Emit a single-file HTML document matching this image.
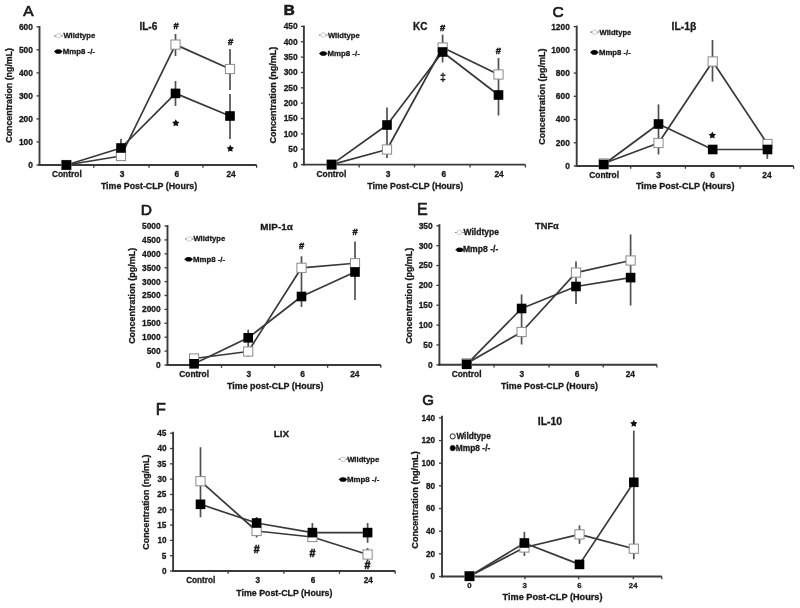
<!DOCTYPE html>
<html><head><meta charset="utf-8"><style>
html,body{margin:0;padding:0;background:#fff;}
body{width:800px;height:608px;overflow:hidden;}
svg{display:block;font-family:"Liberation Sans", sans-serif;filter:blur(0.35px);}
text{fill:#1a1a1a;stroke:#1a1a1a;stroke-width:0.3px;}
</style></head><body>
<svg width="800" height="608" viewBox="0 0 800 608">
<rect width="800" height="608" fill="#fff"/>
<text x="23.21" y="15.75" font-size="15.50" text-anchor="start" font-weight="normal" style="stroke-width:0.7px">A</text>
<line x1="39.50" y1="26.00" x2="39.50" y2="166.00" stroke="#3a3a3a" stroke-width="1.9"/>
<line x1="36.50" y1="165.00" x2="39.50" y2="165.00" stroke="#3a3a3a" stroke-width="1.3"/>
<text x="28.27" y="167.93" font-size="8.40" text-anchor="start" font-weight="bold" >0</text>
<line x1="36.50" y1="141.97" x2="39.50" y2="141.97" stroke="#3a3a3a" stroke-width="1.3"/>
<text x="18.93" y="144.90" font-size="8.40" text-anchor="start" font-weight="bold" >100</text>
<line x1="36.50" y1="118.93" x2="39.50" y2="118.93" stroke="#3a3a3a" stroke-width="1.3"/>
<text x="18.93" y="121.86" font-size="8.40" text-anchor="start" font-weight="bold" >200</text>
<line x1="36.50" y1="95.90" x2="39.50" y2="95.90" stroke="#3a3a3a" stroke-width="1.3"/>
<text x="18.93" y="98.83" font-size="8.40" text-anchor="start" font-weight="bold" >300</text>
<line x1="36.50" y1="72.87" x2="39.50" y2="72.87" stroke="#3a3a3a" stroke-width="1.3"/>
<text x="18.93" y="75.80" font-size="8.40" text-anchor="start" font-weight="bold" >400</text>
<line x1="36.50" y1="49.83" x2="39.50" y2="49.83" stroke="#3a3a3a" stroke-width="1.3"/>
<text x="18.93" y="52.76" font-size="8.40" text-anchor="start" font-weight="bold" >500</text>
<line x1="36.50" y1="26.80" x2="39.50" y2="26.80" stroke="#3a3a3a" stroke-width="1.3"/>
<text x="18.93" y="29.73" font-size="8.40" text-anchor="start" font-weight="bold" >600</text>
<line x1="38.50" y1="165.00" x2="256.60" y2="165.00" stroke="#3a3a3a" stroke-width="1.9"/>
<line x1="93.80" y1="165.00" x2="93.80" y2="167.80" stroke="#3a3a3a" stroke-width="1.3"/>
<line x1="149.00" y1="165.00" x2="149.00" y2="167.80" stroke="#3a3a3a" stroke-width="1.3"/>
<line x1="203.00" y1="165.00" x2="203.00" y2="167.80" stroke="#3a3a3a" stroke-width="1.3"/>
<line x1="256.60" y1="165.00" x2="256.60" y2="167.80" stroke="#3a3a3a" stroke-width="1.3"/>
<text x="51.95" y="177.20" font-size="8.40" text-anchor="start" font-weight="bold" >Control</text>
<text x="119.72" y="177.20" font-size="8.40" text-anchor="start" font-weight="bold" >3</text>
<text x="174.46" y="177.20" font-size="8.40" text-anchor="start" font-weight="bold" >6</text>
<text x="226.41" y="177.20" font-size="8.40" text-anchor="start" font-weight="bold" >24</text>
<text x="100.89" y="189.40" font-size="8.83" text-anchor="start" font-weight="bold" >Time Post-CLP (Hours)</text>
<text x="0" y="0" font-size="8.85" font-weight="bold" transform="translate(12.00,142.75) rotate(-90)">Concentration (ng/mL)</text>
<text x="139.42" y="29.60" font-size="10.09" text-anchor="start" font-weight="bold" >IL-6</text>
<line x1="121.00" y1="138.75" x2="121.00" y2="160.00" stroke="#505050" stroke-width="1.7"/>
<line x1="175.50" y1="34.00" x2="175.50" y2="56.00" stroke="#505050" stroke-width="1.7"/>
<line x1="175.50" y1="81.00" x2="175.50" y2="106.00" stroke="#505050" stroke-width="1.7"/>
<line x1="230.00" y1="49.00" x2="230.00" y2="90.00" stroke="#505050" stroke-width="1.7"/>
<line x1="230.00" y1="94.00" x2="230.00" y2="139.00" stroke="#505050" stroke-width="1.7"/>
<polyline points="66.40,165.00 121.00,156.00 175.50,44.60 230.00,69.00" fill="none" stroke="#383838" stroke-width="1.7" stroke-linejoin="round"/>
<polyline points="66.40,165.00 121.00,148.00 175.50,93.40 230.00,116.00" fill="none" stroke="#383838" stroke-width="1.7" stroke-linejoin="round"/>
<rect x="61.80" y="160.40" width="9.20" height="9.20" fill="#fff" stroke="#8a8a8a" stroke-width="1"/>
<rect x="116.40" y="151.40" width="9.20" height="9.20" fill="#fff" stroke="#8a8a8a" stroke-width="1"/>
<rect x="170.90" y="40.00" width="9.20" height="9.20" fill="#fff" stroke="#8a8a8a" stroke-width="1"/>
<rect x="225.40" y="64.40" width="9.20" height="9.20" fill="#fff" stroke="#8a8a8a" stroke-width="1"/>
<rect x="61.60" y="160.20" width="9.60" height="9.60" fill="#000"/>
<rect x="116.20" y="143.20" width="9.60" height="9.60" fill="#000"/>
<rect x="170.70" y="88.60" width="9.60" height="9.60" fill="#000"/>
<rect x="225.20" y="111.20" width="9.60" height="9.60" fill="#000"/>
<text x="173.48" y="29.30" font-size="9.40" text-anchor="start" font-weight="bold" style="stroke-width:0.55px">#</text>
<text x="227.88" y="44.70" font-size="9.40" text-anchor="start" font-weight="bold" style="stroke-width:0.55px">#</text>
<polygon points="175.80,119.20 176.99,121.46 179.51,121.89 177.73,123.73 178.09,126.26 175.80,125.13 173.51,126.26 173.87,123.73 172.09,121.89 174.61,121.46" fill="#111"/>
<polygon points="230.30,144.70 231.49,146.96 234.01,147.39 232.23,149.23 232.59,151.76 230.30,150.63 228.01,151.76 228.37,149.23 226.59,147.39 229.11,146.96" fill="#111"/>
<line x1="54.30" y1="35.80" x2="55.70" y2="35.80" stroke="#555" stroke-width="1.2"/>
<line x1="61.30" y1="35.80" x2="62.70" y2="35.80" stroke="#555" stroke-width="1.2"/>
<ellipse cx="58.50" cy="35.80" rx="2.6" ry="2.2" fill="#fff" stroke="#bbb" stroke-width="0.8"/>
<text x="63.38" y="38.20" font-size="7.67" text-anchor="start" font-weight="bold" >Wildtype</text>
<line x1="54.10" y1="51.50" x2="62.50" y2="51.50" stroke="#222" stroke-width="1.2"/>
<ellipse cx="58.30" cy="51.50" rx="3.4" ry="2.3" fill="#000"/>
<text x="62.87" y="54.20" font-size="7.82" text-anchor="start" font-weight="bold" >Mmp8 -/-</text>
<text x="283.82" y="15.45" font-size="15.20" text-anchor="start" font-weight="bold" style="stroke-width:0.7px">B</text>
<line x1="303.90" y1="25.60" x2="303.90" y2="165.60" stroke="#3a3a3a" stroke-width="1.9"/>
<line x1="300.90" y1="164.60" x2="303.90" y2="164.60" stroke="#3a3a3a" stroke-width="1.3"/>
<text x="292.97" y="167.53" font-size="8.40" text-anchor="start" font-weight="bold" >0</text>
<line x1="300.90" y1="149.24" x2="303.90" y2="149.24" stroke="#3a3a3a" stroke-width="1.3"/>
<text x="288.31" y="152.18" font-size="8.40" text-anchor="start" font-weight="bold" >50</text>
<line x1="300.90" y1="133.89" x2="303.90" y2="133.89" stroke="#3a3a3a" stroke-width="1.3"/>
<text x="283.63" y="136.82" font-size="8.40" text-anchor="start" font-weight="bold" >100</text>
<line x1="300.90" y1="118.53" x2="303.90" y2="118.53" stroke="#3a3a3a" stroke-width="1.3"/>
<text x="283.63" y="121.46" font-size="8.40" text-anchor="start" font-weight="bold" >150</text>
<line x1="300.90" y1="103.18" x2="303.90" y2="103.18" stroke="#3a3a3a" stroke-width="1.3"/>
<text x="283.63" y="106.11" font-size="8.40" text-anchor="start" font-weight="bold" >200</text>
<line x1="300.90" y1="87.82" x2="303.90" y2="87.82" stroke="#3a3a3a" stroke-width="1.3"/>
<text x="283.63" y="90.75" font-size="8.40" text-anchor="start" font-weight="bold" >250</text>
<line x1="300.90" y1="72.47" x2="303.90" y2="72.47" stroke="#3a3a3a" stroke-width="1.3"/>
<text x="283.63" y="75.40" font-size="8.40" text-anchor="start" font-weight="bold" >300</text>
<line x1="300.90" y1="57.11" x2="303.90" y2="57.11" stroke="#3a3a3a" stroke-width="1.3"/>
<text x="283.63" y="60.04" font-size="8.40" text-anchor="start" font-weight="bold" >350</text>
<line x1="300.90" y1="41.76" x2="303.90" y2="41.76" stroke="#3a3a3a" stroke-width="1.3"/>
<text x="283.63" y="44.69" font-size="8.40" text-anchor="start" font-weight="bold" >400</text>
<line x1="300.90" y1="26.40" x2="303.90" y2="26.40" stroke="#3a3a3a" stroke-width="1.3"/>
<text x="283.63" y="29.33" font-size="8.40" text-anchor="start" font-weight="bold" >450</text>
<line x1="302.90" y1="164.60" x2="525.40" y2="164.60" stroke="#3a3a3a" stroke-width="1.9"/>
<line x1="359.10" y1="164.60" x2="359.10" y2="167.40" stroke="#3a3a3a" stroke-width="1.3"/>
<line x1="414.50" y1="164.60" x2="414.50" y2="167.40" stroke="#3a3a3a" stroke-width="1.3"/>
<line x1="470.00" y1="164.60" x2="470.00" y2="167.40" stroke="#3a3a3a" stroke-width="1.3"/>
<line x1="525.40" y1="164.60" x2="525.40" y2="167.40" stroke="#3a3a3a" stroke-width="1.3"/>
<text x="316.50" y="176.90" font-size="8.40" text-anchor="start" font-weight="bold" >Control</text>
<text x="385.72" y="176.90" font-size="8.40" text-anchor="start" font-weight="bold" >3</text>
<text x="441.46" y="176.90" font-size="8.40" text-anchor="start" font-weight="bold" >6</text>
<text x="494.41" y="176.90" font-size="8.40" text-anchor="start" font-weight="bold" >24</text>
<text x="367.29" y="189.30" font-size="8.80" text-anchor="start" font-weight="bold" >Time Post-CLP (Hours)</text>
<text x="0" y="0" font-size="9.02" font-weight="bold" transform="translate(276.30,143.46) rotate(-90)">Concentration (ng/mL)</text>
<text x="412.93" y="29.60" font-size="10.00" text-anchor="start" font-weight="bold" >KC</text>
<line x1="387.00" y1="107.50" x2="387.00" y2="158.00" stroke="#505050" stroke-width="1.7"/>
<line x1="442.60" y1="34.60" x2="442.60" y2="62.50" stroke="#505050" stroke-width="1.7"/>
<line x1="498.50" y1="58.00" x2="498.50" y2="115.50" stroke="#505050" stroke-width="1.7"/>
<polyline points="331.60,164.60 387.00,149.50 442.60,47.50 498.50,74.50" fill="none" stroke="#383838" stroke-width="1.7" stroke-linejoin="round"/>
<polyline points="331.60,164.60 387.00,125.00 442.60,52.00 498.50,95.00" fill="none" stroke="#383838" stroke-width="1.7" stroke-linejoin="round"/>
<rect x="327.00" y="160.00" width="9.20" height="9.20" fill="#fff" stroke="#8a8a8a" stroke-width="1"/>
<rect x="382.40" y="144.90" width="9.20" height="9.20" fill="#fff" stroke="#8a8a8a" stroke-width="1"/>
<rect x="438.00" y="42.90" width="9.20" height="9.20" fill="#fff" stroke="#8a8a8a" stroke-width="1"/>
<rect x="493.90" y="69.90" width="9.20" height="9.20" fill="#fff" stroke="#8a8a8a" stroke-width="1"/>
<rect x="326.80" y="159.80" width="9.60" height="9.60" fill="#000"/>
<rect x="382.20" y="120.20" width="9.60" height="9.60" fill="#000"/>
<rect x="437.80" y="47.20" width="9.60" height="9.60" fill="#000"/>
<rect x="493.70" y="90.20" width="9.60" height="9.60" fill="#000"/>
<text x="440.08" y="30.60" font-size="9.40" text-anchor="start" font-weight="bold" style="stroke-width:0.55px">#</text>
<text x="440.07" y="81.40" font-size="10.50" text-anchor="start" font-weight="bold" >‡</text>
<text x="495.68" y="53.70" font-size="9.40" text-anchor="start" font-weight="bold" style="stroke-width:0.55px">#</text>
<line x1="319.10" y1="35.00" x2="320.50" y2="35.00" stroke="#555" stroke-width="1.2"/>
<line x1="326.10" y1="35.00" x2="327.50" y2="35.00" stroke="#555" stroke-width="1.2"/>
<ellipse cx="323.30" cy="35.00" rx="2.6" ry="2.2" fill="#fff" stroke="#bbb" stroke-width="0.8"/>
<text x="327.98" y="37.60" font-size="7.64" text-anchor="start" font-weight="bold" >Wildtype</text>
<line x1="319.10" y1="53.50" x2="327.50" y2="53.50" stroke="#222" stroke-width="1.2"/>
<ellipse cx="323.30" cy="53.50" rx="3.4" ry="2.3" fill="#000"/>
<text x="327.47" y="55.70" font-size="7.87" text-anchor="start" font-weight="bold" >Mmp8 -/-</text>
<text x="552.48" y="16.85" font-size="15.50" text-anchor="start" font-weight="normal" style="stroke-width:0.7px">C</text>
<line x1="576.70" y1="25.60" x2="576.70" y2="167.00" stroke="#3a3a3a" stroke-width="1.9"/>
<line x1="573.70" y1="166.00" x2="576.70" y2="166.00" stroke="#3a3a3a" stroke-width="1.3"/>
<text x="565.17" y="168.93" font-size="8.40" text-anchor="start" font-weight="bold" >0</text>
<line x1="573.70" y1="142.77" x2="576.70" y2="142.77" stroke="#3a3a3a" stroke-width="1.3"/>
<text x="555.83" y="145.70" font-size="8.40" text-anchor="start" font-weight="bold" >200</text>
<line x1="573.70" y1="119.53" x2="576.70" y2="119.53" stroke="#3a3a3a" stroke-width="1.3"/>
<text x="555.83" y="122.46" font-size="8.40" text-anchor="start" font-weight="bold" >400</text>
<line x1="573.70" y1="96.30" x2="576.70" y2="96.30" stroke="#3a3a3a" stroke-width="1.3"/>
<text x="555.83" y="99.23" font-size="8.40" text-anchor="start" font-weight="bold" >600</text>
<line x1="573.70" y1="73.07" x2="576.70" y2="73.07" stroke="#3a3a3a" stroke-width="1.3"/>
<text x="555.83" y="76.00" font-size="8.40" text-anchor="start" font-weight="bold" >800</text>
<line x1="573.70" y1="49.83" x2="576.70" y2="49.83" stroke="#3a3a3a" stroke-width="1.3"/>
<text x="551.17" y="52.76" font-size="8.40" text-anchor="start" font-weight="bold" >1000</text>
<line x1="573.70" y1="26.60" x2="576.70" y2="26.60" stroke="#3a3a3a" stroke-width="1.3"/>
<text x="551.17" y="29.53" font-size="8.40" text-anchor="start" font-weight="bold" >1200</text>
<line x1="575.70" y1="166.00" x2="793.60" y2="166.00" stroke="#3a3a3a" stroke-width="1.9"/>
<line x1="630.70" y1="166.00" x2="630.70" y2="168.80" stroke="#3a3a3a" stroke-width="1.3"/>
<line x1="685.40" y1="166.00" x2="685.40" y2="168.80" stroke="#3a3a3a" stroke-width="1.3"/>
<line x1="740.20" y1="166.00" x2="740.20" y2="168.80" stroke="#3a3a3a" stroke-width="1.3"/>
<line x1="793.60" y1="166.00" x2="793.60" y2="168.80" stroke="#3a3a3a" stroke-width="1.3"/>
<text x="589.30" y="178.20" font-size="8.40" text-anchor="start" font-weight="bold" >Control</text>
<text x="656.22" y="178.20" font-size="8.40" text-anchor="start" font-weight="bold" >3</text>
<text x="710.36" y="178.20" font-size="8.40" text-anchor="start" font-weight="bold" >6</text>
<text x="762.31" y="178.20" font-size="8.40" text-anchor="start" font-weight="bold" >24</text>
<text x="635.89" y="189.20" font-size="9.04" text-anchor="start" font-weight="bold" >Time Post-CLP (Hours)</text>
<text x="0" y="0" font-size="8.97" font-weight="bold" transform="translate(544.50,144.66) rotate(-90)">Concentration (pg/mL)</text>
<text x="671.60" y="30.00" font-size="10.36" text-anchor="start" font-weight="bold" >IL-1β</text>
<line x1="658.50" y1="104.40" x2="658.50" y2="154.50" stroke="#505050" stroke-width="1.7"/>
<line x1="712.50" y1="40.00" x2="712.50" y2="81.60" stroke="#505050" stroke-width="1.7"/>
<line x1="767.30" y1="140.00" x2="767.30" y2="158.90" stroke="#505050" stroke-width="1.7"/>
<polyline points="603.70,163.50 658.50,143.00 712.70,61.50 767.50,144.00" fill="none" stroke="#383838" stroke-width="1.7" stroke-linejoin="round"/>
<polyline points="603.70,164.50 658.50,124.00 712.70,149.50 767.50,149.50" fill="none" stroke="#383838" stroke-width="1.7" stroke-linejoin="round"/>
<rect x="599.10" y="158.90" width="9.20" height="9.20" fill="#fff" stroke="#8a8a8a" stroke-width="1"/>
<rect x="653.90" y="138.40" width="9.20" height="9.20" fill="#fff" stroke="#8a8a8a" stroke-width="1"/>
<rect x="708.10" y="56.90" width="9.20" height="9.20" fill="#fff" stroke="#8a8a8a" stroke-width="1"/>
<rect x="762.90" y="139.40" width="9.20" height="9.20" fill="#fff" stroke="#8a8a8a" stroke-width="1"/>
<rect x="598.90" y="159.70" width="9.60" height="9.60" fill="#000"/>
<rect x="653.70" y="119.20" width="9.60" height="9.60" fill="#000"/>
<rect x="707.90" y="144.70" width="9.60" height="9.60" fill="#000"/>
<rect x="762.70" y="144.70" width="9.60" height="9.60" fill="#000"/>
<polygon points="712.30,131.50 713.49,133.76 716.01,134.19 714.23,136.03 714.59,138.56 712.30,137.43 710.01,138.56 710.37,136.03 708.59,134.19 711.11,133.76" fill="#111"/>
<line x1="590.50" y1="32.20" x2="591.90" y2="32.20" stroke="#555" stroke-width="1.2"/>
<line x1="597.50" y1="32.20" x2="598.90" y2="32.20" stroke="#555" stroke-width="1.2"/>
<ellipse cx="594.70" cy="32.20" rx="2.6" ry="2.2" fill="#fff" stroke="#bbb" stroke-width="0.8"/>
<text x="599.58" y="34.60" font-size="7.64" text-anchor="start" font-weight="bold" >Wildtype</text>
<line x1="590.20" y1="52.40" x2="598.60" y2="52.40" stroke="#222" stroke-width="1.2"/>
<ellipse cx="594.40" cy="52.40" rx="3.4" ry="2.3" fill="#000"/>
<text x="599.08" y="54.50" font-size="7.72" text-anchor="start" font-weight="bold" >Mmp8 -/-</text>
<text x="140.77" y="215.05" font-size="15.50" text-anchor="start" font-weight="normal" style="stroke-width:0.7px">D</text>
<line x1="167.50" y1="225.00" x2="167.50" y2="366.00" stroke="#3a3a3a" stroke-width="1.9"/>
<line x1="164.50" y1="365.00" x2="167.50" y2="365.00" stroke="#3a3a3a" stroke-width="1.3"/>
<text x="155.97" y="367.93" font-size="8.40" text-anchor="start" font-weight="bold" >0</text>
<line x1="164.50" y1="351.10" x2="167.50" y2="351.10" stroke="#3a3a3a" stroke-width="1.3"/>
<text x="146.63" y="354.03" font-size="8.40" text-anchor="start" font-weight="bold" >500</text>
<line x1="164.50" y1="337.20" x2="167.50" y2="337.20" stroke="#3a3a3a" stroke-width="1.3"/>
<text x="141.97" y="340.13" font-size="8.40" text-anchor="start" font-weight="bold" >1000</text>
<line x1="164.50" y1="323.30" x2="167.50" y2="323.30" stroke="#3a3a3a" stroke-width="1.3"/>
<text x="141.97" y="326.23" font-size="8.40" text-anchor="start" font-weight="bold" >1500</text>
<line x1="164.50" y1="309.40" x2="167.50" y2="309.40" stroke="#3a3a3a" stroke-width="1.3"/>
<text x="141.97" y="312.33" font-size="8.40" text-anchor="start" font-weight="bold" >2000</text>
<line x1="164.50" y1="295.50" x2="167.50" y2="295.50" stroke="#3a3a3a" stroke-width="1.3"/>
<text x="141.97" y="298.43" font-size="8.40" text-anchor="start" font-weight="bold" >2500</text>
<line x1="164.50" y1="281.60" x2="167.50" y2="281.60" stroke="#3a3a3a" stroke-width="1.3"/>
<text x="141.97" y="284.53" font-size="8.40" text-anchor="start" font-weight="bold" >3000</text>
<line x1="164.50" y1="267.70" x2="167.50" y2="267.70" stroke="#3a3a3a" stroke-width="1.3"/>
<text x="141.97" y="270.63" font-size="8.40" text-anchor="start" font-weight="bold" >3500</text>
<line x1="164.50" y1="253.80" x2="167.50" y2="253.80" stroke="#3a3a3a" stroke-width="1.3"/>
<text x="141.97" y="256.73" font-size="8.40" text-anchor="start" font-weight="bold" >4000</text>
<line x1="164.50" y1="239.90" x2="167.50" y2="239.90" stroke="#3a3a3a" stroke-width="1.3"/>
<text x="141.97" y="242.83" font-size="8.40" text-anchor="start" font-weight="bold" >4500</text>
<line x1="164.50" y1="226.00" x2="167.50" y2="226.00" stroke="#3a3a3a" stroke-width="1.3"/>
<text x="141.97" y="228.93" font-size="8.40" text-anchor="start" font-weight="bold" >5000</text>
<line x1="166.50" y1="365.00" x2="380.80" y2="365.00" stroke="#3a3a3a" stroke-width="1.9"/>
<line x1="221.50" y1="365.00" x2="221.50" y2="367.80" stroke="#3a3a3a" stroke-width="1.3"/>
<line x1="274.60" y1="365.00" x2="274.60" y2="367.80" stroke="#3a3a3a" stroke-width="1.3"/>
<line x1="327.60" y1="365.00" x2="327.60" y2="367.80" stroke="#3a3a3a" stroke-width="1.3"/>
<line x1="380.80" y1="365.00" x2="380.80" y2="367.80" stroke="#3a3a3a" stroke-width="1.3"/>
<text x="179.29" y="377.20" font-size="8.40" text-anchor="start" font-weight="bold" >Control</text>
<text x="246.62" y="377.20" font-size="8.40" text-anchor="start" font-weight="bold" >3</text>
<text x="300.16" y="377.20" font-size="8.40" text-anchor="start" font-weight="bold" >6</text>
<text x="350.21" y="377.20" font-size="8.40" text-anchor="start" font-weight="bold" >24</text>
<text x="227.09" y="389.00" font-size="8.89" text-anchor="start" font-weight="bold" >Time post-CLP (Hours)</text>
<text x="0" y="0" font-size="8.96" font-weight="bold" transform="translate(134.90,343.86) rotate(-90)">Concentration (pg/mL)</text>
<text x="260.33" y="229.70" font-size="9.89" text-anchor="start" font-weight="bold" >MIP-1α</text>
<line x1="248.20" y1="329.75" x2="248.20" y2="356.70" stroke="#505050" stroke-width="1.7"/>
<line x1="301.50" y1="256.25" x2="301.50" y2="307.00" stroke="#505050" stroke-width="1.7"/>
<line x1="355.00" y1="241.50" x2="355.00" y2="300.00" stroke="#505050" stroke-width="1.7"/>
<polyline points="194.10,358.50 248.20,351.50 301.50,267.80 355.00,263.25" fill="none" stroke="#383838" stroke-width="1.7" stroke-linejoin="round"/>
<polyline points="194.10,363.80 248.20,337.80 301.50,296.50 355.00,272.00" fill="none" stroke="#383838" stroke-width="1.7" stroke-linejoin="round"/>
<rect x="189.50" y="353.90" width="9.20" height="9.20" fill="#fff" stroke="#8a8a8a" stroke-width="1"/>
<rect x="243.60" y="346.90" width="9.20" height="9.20" fill="#fff" stroke="#8a8a8a" stroke-width="1"/>
<rect x="296.90" y="263.20" width="9.20" height="9.20" fill="#fff" stroke="#8a8a8a" stroke-width="1"/>
<rect x="350.40" y="258.65" width="9.20" height="9.20" fill="#fff" stroke="#8a8a8a" stroke-width="1"/>
<rect x="189.30" y="359.00" width="9.60" height="9.60" fill="#000"/>
<rect x="243.40" y="333.00" width="9.60" height="9.60" fill="#000"/>
<rect x="296.70" y="291.70" width="9.60" height="9.60" fill="#000"/>
<rect x="350.20" y="267.20" width="9.60" height="9.60" fill="#000"/>
<text x="298.88" y="248.95" font-size="9.40" text-anchor="start" font-weight="bold" style="stroke-width:0.55px">#</text>
<text x="352.38" y="234.95" font-size="9.40" text-anchor="start" font-weight="bold" style="stroke-width:0.55px">#</text>
<line x1="185.10" y1="239.00" x2="186.50" y2="239.00" stroke="#555" stroke-width="1.2"/>
<line x1="192.10" y1="239.00" x2="193.50" y2="239.00" stroke="#555" stroke-width="1.2"/>
<ellipse cx="189.30" cy="239.00" rx="2.6" ry="2.2" fill="#fff" stroke="#bbb" stroke-width="0.8"/>
<text x="193.48" y="241.20" font-size="7.64" text-anchor="start" font-weight="bold" >Wildtype</text>
<line x1="184.40" y1="259.20" x2="192.80" y2="259.20" stroke="#222" stroke-width="1.2"/>
<ellipse cx="188.60" cy="259.20" rx="3.4" ry="2.3" fill="#000"/>
<text x="192.97" y="261.50" font-size="7.82" text-anchor="start" font-weight="bold" >Mmp8 -/-</text>
<text x="416.93" y="215.35" font-size="16.00" text-anchor="start" font-weight="normal" style="stroke-width:0.7px">E</text>
<line x1="439.40" y1="224.20" x2="439.40" y2="365.80" stroke="#3a3a3a" stroke-width="1.9"/>
<line x1="436.40" y1="364.80" x2="439.40" y2="364.80" stroke="#3a3a3a" stroke-width="1.3"/>
<text x="427.97" y="367.73" font-size="8.40" text-anchor="start" font-weight="bold" >0</text>
<line x1="436.40" y1="344.94" x2="439.40" y2="344.94" stroke="#3a3a3a" stroke-width="1.3"/>
<text x="423.31" y="347.87" font-size="8.40" text-anchor="start" font-weight="bold" >50</text>
<line x1="436.40" y1="325.09" x2="439.40" y2="325.09" stroke="#3a3a3a" stroke-width="1.3"/>
<text x="418.63" y="328.02" font-size="8.40" text-anchor="start" font-weight="bold" >100</text>
<line x1="436.40" y1="305.23" x2="439.40" y2="305.23" stroke="#3a3a3a" stroke-width="1.3"/>
<text x="418.63" y="308.16" font-size="8.40" text-anchor="start" font-weight="bold" >150</text>
<line x1="436.40" y1="285.37" x2="439.40" y2="285.37" stroke="#3a3a3a" stroke-width="1.3"/>
<text x="418.63" y="288.30" font-size="8.40" text-anchor="start" font-weight="bold" >200</text>
<line x1="436.40" y1="265.51" x2="439.40" y2="265.51" stroke="#3a3a3a" stroke-width="1.3"/>
<text x="418.63" y="268.45" font-size="8.40" text-anchor="start" font-weight="bold" >250</text>
<line x1="436.40" y1="245.66" x2="439.40" y2="245.66" stroke="#3a3a3a" stroke-width="1.3"/>
<text x="418.63" y="248.59" font-size="8.40" text-anchor="start" font-weight="bold" >300</text>
<line x1="436.40" y1="225.80" x2="439.40" y2="225.80" stroke="#3a3a3a" stroke-width="1.3"/>
<text x="418.63" y="228.73" font-size="8.40" text-anchor="start" font-weight="bold" >350</text>
<line x1="438.40" y1="364.80" x2="656.90" y2="364.80" stroke="#3a3a3a" stroke-width="1.9"/>
<line x1="494.10" y1="364.80" x2="494.10" y2="367.60" stroke="#3a3a3a" stroke-width="1.3"/>
<line x1="549.00" y1="364.80" x2="549.00" y2="367.60" stroke="#3a3a3a" stroke-width="1.3"/>
<line x1="603.20" y1="364.80" x2="603.20" y2="367.60" stroke="#3a3a3a" stroke-width="1.3"/>
<line x1="656.90" y1="364.80" x2="656.90" y2="367.60" stroke="#3a3a3a" stroke-width="1.3"/>
<text x="451.69" y="377.20" font-size="8.40" text-anchor="start" font-weight="bold" >Control</text>
<text x="519.52" y="377.20" font-size="8.40" text-anchor="start" font-weight="bold" >3</text>
<text x="574.66" y="377.20" font-size="8.40" text-anchor="start" font-weight="bold" >6</text>
<text x="625.71" y="377.20" font-size="8.40" text-anchor="start" font-weight="bold" >24</text>
<text x="501.09" y="389.00" font-size="8.88" text-anchor="start" font-weight="bold" >Time Post-CLP (Hours)</text>
<text x="0" y="0" font-size="8.98" font-weight="bold" transform="translate(411.90,343.86) rotate(-90)">Concentration (pg/mL)</text>
<text x="535.08" y="229.20" font-size="9.26" text-anchor="start" font-weight="bold" >TNFα</text>
<line x1="521.60" y1="294.40" x2="521.60" y2="344.50" stroke="#505050" stroke-width="1.7"/>
<line x1="576.00" y1="261.40" x2="576.00" y2="304.00" stroke="#505050" stroke-width="1.7"/>
<line x1="630.60" y1="234.40" x2="630.60" y2="305.50" stroke="#505050" stroke-width="1.7"/>
<polyline points="466.70,363.40 521.60,332.00 576.00,272.60 630.60,260.50" fill="none" stroke="#383838" stroke-width="1.7" stroke-linejoin="round"/>
<polyline points="466.70,364.30 521.60,308.50 576.00,286.50 630.60,277.60" fill="none" stroke="#383838" stroke-width="1.7" stroke-linejoin="round"/>
<rect x="462.10" y="358.80" width="9.20" height="9.20" fill="#fff" stroke="#8a8a8a" stroke-width="1"/>
<rect x="517.00" y="327.40" width="9.20" height="9.20" fill="#fff" stroke="#8a8a8a" stroke-width="1"/>
<rect x="571.40" y="268.00" width="9.20" height="9.20" fill="#fff" stroke="#8a8a8a" stroke-width="1"/>
<rect x="626.00" y="255.90" width="9.20" height="9.20" fill="#fff" stroke="#8a8a8a" stroke-width="1"/>
<rect x="461.90" y="359.50" width="9.60" height="9.60" fill="#000"/>
<rect x="516.80" y="303.70" width="9.60" height="9.60" fill="#000"/>
<rect x="571.20" y="281.70" width="9.60" height="9.60" fill="#000"/>
<rect x="625.80" y="272.80" width="9.60" height="9.60" fill="#000"/>
<line x1="455.30" y1="232.50" x2="456.70" y2="232.50" stroke="#555" stroke-width="1.2"/>
<line x1="462.30" y1="232.50" x2="463.70" y2="232.50" stroke="#555" stroke-width="1.2"/>
<ellipse cx="459.50" cy="232.50" rx="2.6" ry="2.2" fill="#fff" stroke="#bbb" stroke-width="0.8"/>
<text x="463.48" y="234.80" font-size="8.54" text-anchor="start" font-weight="bold" >Wildtype</text>
<line x1="455.50" y1="249.80" x2="463.90" y2="249.80" stroke="#222" stroke-width="1.2"/>
<ellipse cx="459.70" cy="249.80" rx="3.4" ry="2.3" fill="#000"/>
<text x="462.92" y="252.20" font-size="8.62" text-anchor="start" font-weight="bold" >Mmp8 -/-</text>
<text x="155.69" y="414.95" font-size="16.50" text-anchor="start" font-weight="normal" style="stroke-width:0.7px">F</text>
<line x1="173.10" y1="431.80" x2="173.10" y2="572.00" stroke="#3a3a3a" stroke-width="1.9"/>
<line x1="170.10" y1="571.00" x2="173.10" y2="571.00" stroke="#3a3a3a" stroke-width="1.3"/>
<text x="161.98" y="573.86" font-size="8.20" text-anchor="start" font-weight="bold" >0</text>
<line x1="170.10" y1="555.69" x2="173.10" y2="555.69" stroke="#3a3a3a" stroke-width="1.3"/>
<text x="161.87" y="558.55" font-size="8.20" text-anchor="start" font-weight="bold" >5</text>
<line x1="170.10" y1="540.38" x2="173.10" y2="540.38" stroke="#3a3a3a" stroke-width="1.3"/>
<text x="157.43" y="543.24" font-size="8.20" text-anchor="start" font-weight="bold" >10</text>
<line x1="170.10" y1="525.07" x2="173.10" y2="525.07" stroke="#3a3a3a" stroke-width="1.3"/>
<text x="157.32" y="527.93" font-size="8.20" text-anchor="start" font-weight="bold" >15</text>
<line x1="170.10" y1="509.76" x2="173.10" y2="509.76" stroke="#3a3a3a" stroke-width="1.3"/>
<text x="157.43" y="512.62" font-size="8.20" text-anchor="start" font-weight="bold" >20</text>
<line x1="170.10" y1="494.44" x2="173.10" y2="494.44" stroke="#3a3a3a" stroke-width="1.3"/>
<text x="157.32" y="497.31" font-size="8.20" text-anchor="start" font-weight="bold" >25</text>
<line x1="170.10" y1="479.13" x2="173.10" y2="479.13" stroke="#3a3a3a" stroke-width="1.3"/>
<text x="157.43" y="482.00" font-size="8.20" text-anchor="start" font-weight="bold" >30</text>
<line x1="170.10" y1="463.82" x2="173.10" y2="463.82" stroke="#3a3a3a" stroke-width="1.3"/>
<text x="157.32" y="466.68" font-size="8.20" text-anchor="start" font-weight="bold" >35</text>
<line x1="170.10" y1="448.51" x2="173.10" y2="448.51" stroke="#3a3a3a" stroke-width="1.3"/>
<text x="157.43" y="451.37" font-size="8.20" text-anchor="start" font-weight="bold" >40</text>
<line x1="170.10" y1="433.20" x2="173.10" y2="433.20" stroke="#3a3a3a" stroke-width="1.3"/>
<text x="157.32" y="436.06" font-size="8.20" text-anchor="start" font-weight="bold" >45</text>
<line x1="172.10" y1="571.00" x2="395.20" y2="571.00" stroke="#3a3a3a" stroke-width="1.9"/>
<line x1="228.10" y1="571.00" x2="228.10" y2="573.80" stroke="#3a3a3a" stroke-width="1.3"/>
<line x1="283.90" y1="571.00" x2="283.90" y2="573.80" stroke="#3a3a3a" stroke-width="1.3"/>
<line x1="339.50" y1="571.00" x2="339.50" y2="573.80" stroke="#3a3a3a" stroke-width="1.3"/>
<line x1="395.20" y1="571.00" x2="395.20" y2="573.80" stroke="#3a3a3a" stroke-width="1.3"/>
<text x="186.20" y="583.30" font-size="8.20" text-anchor="start" font-weight="bold" >Control</text>
<text x="255.48" y="583.30" font-size="8.20" text-anchor="start" font-weight="bold" >3</text>
<text x="310.81" y="583.30" font-size="8.20" text-anchor="start" font-weight="bold" >6</text>
<text x="363.73" y="583.30" font-size="8.20" text-anchor="start" font-weight="bold" >24</text>
<text x="236.29" y="595.70" font-size="8.82" text-anchor="start" font-weight="bold" >Time Post-CLP (Hours)</text>
<text x="0" y="0" font-size="8.87" font-weight="bold" transform="translate(149.30,549.65) rotate(-90)">Concentration (ng/mL)</text>
<text x="273.63" y="436.50" font-size="9.95" text-anchor="start" font-weight="bold" >LIX</text>
<line x1="200.50" y1="447.25" x2="200.50" y2="517.25" stroke="#505050" stroke-width="1.7"/>
<line x1="256.60" y1="517.00" x2="256.60" y2="537.50" stroke="#505050" stroke-width="1.7"/>
<line x1="312.40" y1="523.00" x2="312.40" y2="540.00" stroke="#505050" stroke-width="1.7"/>
<line x1="367.60" y1="523.00" x2="367.60" y2="542.80" stroke="#505050" stroke-width="1.7"/>
<line x1="367.60" y1="548.00" x2="367.60" y2="561.00" stroke="#505050" stroke-width="1.7"/>
<polyline points="200.50,481.20 256.60,531.00 312.40,537.00 367.60,554.50" fill="none" stroke="#383838" stroke-width="1.7" stroke-linejoin="round"/>
<polyline points="200.50,504.30 256.60,523.00 312.40,532.60 367.60,532.60" fill="none" stroke="#383838" stroke-width="1.7" stroke-linejoin="round"/>
<rect x="195.90" y="476.60" width="9.20" height="9.20" fill="#fff" stroke="#8a8a8a" stroke-width="1"/>
<rect x="252.00" y="526.40" width="9.20" height="9.20" fill="#fff" stroke="#8a8a8a" stroke-width="1"/>
<rect x="307.80" y="532.40" width="9.20" height="9.20" fill="#fff" stroke="#8a8a8a" stroke-width="1"/>
<rect x="363.00" y="549.90" width="9.20" height="9.20" fill="#fff" stroke="#8a8a8a" stroke-width="1"/>
<rect x="195.70" y="499.50" width="9.60" height="9.60" fill="#000"/>
<rect x="251.80" y="518.20" width="9.60" height="9.60" fill="#000"/>
<rect x="307.60" y="527.80" width="9.60" height="9.60" fill="#000"/>
<rect x="362.80" y="527.80" width="9.60" height="9.60" fill="#000"/>
<text x="253.65" y="552.60" font-size="10.60" text-anchor="start" font-weight="bold" style="stroke-width:0.55px">#</text>
<text x="309.45" y="557.20" font-size="10.60" text-anchor="start" font-weight="bold" style="stroke-width:0.55px">#</text>
<text x="364.45" y="568.60" font-size="10.60" text-anchor="start" font-weight="bold" style="stroke-width:0.55px">#</text>
<line x1="338.80" y1="459.30" x2="340.20" y2="459.30" stroke="#555" stroke-width="1.2"/>
<line x1="345.80" y1="459.30" x2="347.20" y2="459.30" stroke="#555" stroke-width="1.2"/>
<ellipse cx="343.00" cy="459.30" rx="2.6" ry="2.2" fill="#fff" stroke="#bbb" stroke-width="0.8"/>
<text x="347.18" y="461.70" font-size="7.71" text-anchor="start" font-weight="bold" >Wildtype</text>
<line x1="338.80" y1="479.50" x2="347.20" y2="479.50" stroke="#222" stroke-width="1.2"/>
<ellipse cx="343.00" cy="479.50" rx="3.4" ry="2.3" fill="#000"/>
<text x="346.97" y="481.80" font-size="7.87" text-anchor="start" font-weight="bold" >Mmp8 -/-</text>
<text x="422.30" y="405.05" font-size="15.00" text-anchor="start" font-weight="normal" style="stroke-width:0.7px">G</text>
<line x1="442.00" y1="415.80" x2="442.00" y2="577.50" stroke="#3a3a3a" stroke-width="1.9"/>
<line x1="439.00" y1="576.50" x2="442.00" y2="576.50" stroke="#3a3a3a" stroke-width="1.3"/>
<text x="430.58" y="579.36" font-size="8.20" text-anchor="start" font-weight="bold" >0</text>
<line x1="439.00" y1="553.84" x2="442.00" y2="553.84" stroke="#3a3a3a" stroke-width="1.3"/>
<text x="426.03" y="556.70" font-size="8.20" text-anchor="start" font-weight="bold" >20</text>
<line x1="439.00" y1="531.19" x2="442.00" y2="531.19" stroke="#3a3a3a" stroke-width="1.3"/>
<text x="426.03" y="534.05" font-size="8.20" text-anchor="start" font-weight="bold" >40</text>
<line x1="439.00" y1="508.53" x2="442.00" y2="508.53" stroke="#3a3a3a" stroke-width="1.3"/>
<text x="426.03" y="511.39" font-size="8.20" text-anchor="start" font-weight="bold" >60</text>
<line x1="439.00" y1="485.87" x2="442.00" y2="485.87" stroke="#3a3a3a" stroke-width="1.3"/>
<text x="426.03" y="488.73" font-size="8.20" text-anchor="start" font-weight="bold" >80</text>
<line x1="439.00" y1="463.21" x2="442.00" y2="463.21" stroke="#3a3a3a" stroke-width="1.3"/>
<text x="421.45" y="466.08" font-size="8.20" text-anchor="start" font-weight="bold" >100</text>
<line x1="439.00" y1="440.56" x2="442.00" y2="440.56" stroke="#3a3a3a" stroke-width="1.3"/>
<text x="421.45" y="443.42" font-size="8.20" text-anchor="start" font-weight="bold" >120</text>
<line x1="439.00" y1="417.90" x2="442.00" y2="417.90" stroke="#3a3a3a" stroke-width="1.3"/>
<text x="421.45" y="420.76" font-size="8.20" text-anchor="start" font-weight="bold" >140</text>
<line x1="441.00" y1="576.50" x2="661.80" y2="576.50" stroke="#3a3a3a" stroke-width="1.9"/>
<line x1="469.50" y1="576.50" x2="469.50" y2="579.30" stroke="#3a3a3a" stroke-width="1.3"/>
<line x1="525.00" y1="576.50" x2="525.00" y2="579.30" stroke="#3a3a3a" stroke-width="1.3"/>
<line x1="578.60" y1="576.50" x2="578.60" y2="579.30" stroke="#3a3a3a" stroke-width="1.3"/>
<line x1="633.30" y1="576.50" x2="633.30" y2="579.30" stroke="#3a3a3a" stroke-width="1.3"/>
<line x1="661.80" y1="576.50" x2="661.80" y2="579.30" stroke="#3a3a3a" stroke-width="1.3"/>
<text x="467.24" y="588.00" font-size="7.80" text-anchor="start" font-weight="bold" >0</text>
<text x="522.48" y="588.00" font-size="7.80" text-anchor="start" font-weight="bold" >3</text>
<text x="577.13" y="588.00" font-size="7.80" text-anchor="start" font-weight="bold" >6</text>
<text x="628.85" y="588.00" font-size="7.80" text-anchor="start" font-weight="bold" >24</text>
<text x="502.59" y="600.00" font-size="9.16" text-anchor="start" font-weight="bold" >Time Post-CLP (Hours)</text>
<text x="0" y="0" font-size="9.09" font-weight="bold" transform="translate(417.50,548.66) rotate(-90)">Concentration (ng/mL)</text>
<text x="537.80" y="425.00" font-size="10.43" text-anchor="start" font-weight="bold" >IL-10</text>
<line x1="524.40" y1="531.80" x2="524.40" y2="556.00" stroke="#505050" stroke-width="1.7"/>
<line x1="579.50" y1="525.40" x2="579.50" y2="543.80" stroke="#505050" stroke-width="1.7"/>
<line x1="633.80" y1="430.60" x2="633.80" y2="559.20" stroke="#505050" stroke-width="1.7"/>
<polyline points="469.50,576.20 524.40,547.50 579.50,534.40 633.80,548.70" fill="none" stroke="#383838" stroke-width="1.7" stroke-linejoin="round"/>
<polyline points="469.50,576.20 524.40,543.00 579.50,564.40 633.80,482.30" fill="none" stroke="#383838" stroke-width="1.7" stroke-linejoin="round"/>
<rect x="464.90" y="571.60" width="9.20" height="9.20" fill="#fff" stroke="#8a8a8a" stroke-width="1"/>
<rect x="519.80" y="542.90" width="9.20" height="9.20" fill="#fff" stroke="#8a8a8a" stroke-width="1"/>
<rect x="574.90" y="529.80" width="9.20" height="9.20" fill="#fff" stroke="#8a8a8a" stroke-width="1"/>
<rect x="629.20" y="544.10" width="9.20" height="9.20" fill="#fff" stroke="#8a8a8a" stroke-width="1"/>
<rect x="464.70" y="571.40" width="9.60" height="9.60" fill="#000"/>
<rect x="519.60" y="538.20" width="9.60" height="9.60" fill="#000"/>
<rect x="574.70" y="559.60" width="9.60" height="9.60" fill="#000"/>
<rect x="629.00" y="477.50" width="9.60" height="9.60" fill="#000"/>
<polygon points="633.80,419.70 634.99,421.96 637.51,422.39 635.73,424.23 636.09,426.76 633.80,425.63 631.51,426.76 631.87,424.23 630.09,422.39 632.61,421.96" fill="#111"/>
<circle cx="452.70" cy="436.40" r="2.6" fill="#fff" stroke="#222" stroke-width="1"/>
<text x="456.38" y="438.70" font-size="8.27" text-anchor="start" font-weight="bold" >Wildtype</text>
<circle cx="452.70" cy="448.10" r="2.6" fill="#000" stroke="#222" stroke-width="1"/>
<text x="455.83" y="450.50" font-size="8.39" text-anchor="start" font-weight="bold" >Mmp8 -/-</text>
</svg>
</body></html>
